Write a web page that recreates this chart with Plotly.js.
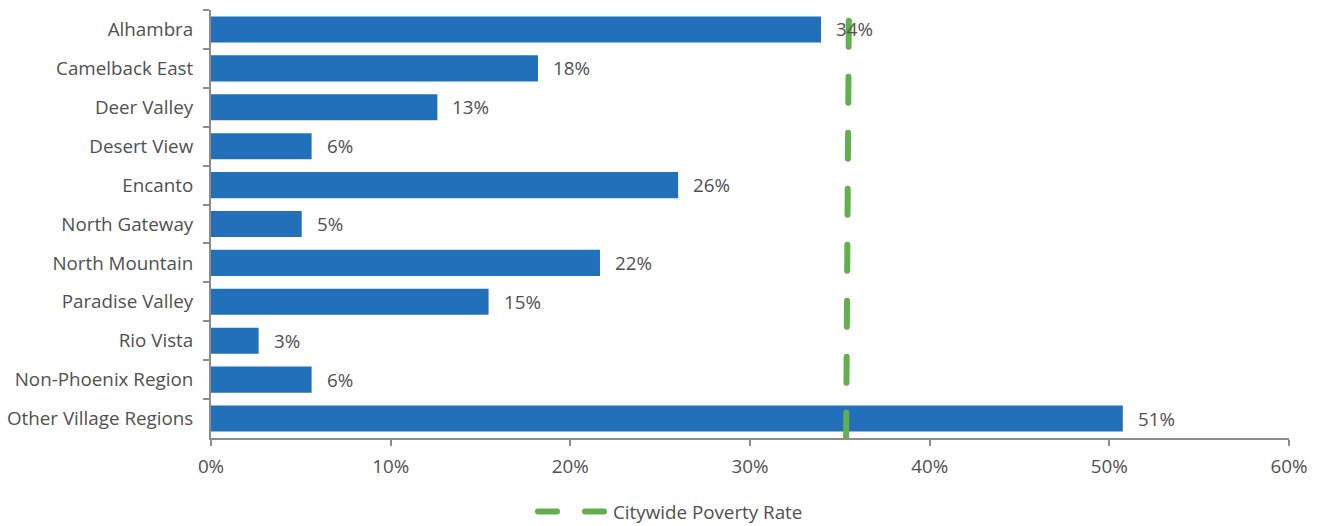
<!DOCTYPE html>
<html>
<head>
<meta charset="utf-8">
<script src="https://cdn.plot.ly/plotly-3.0.1.min.js"></script>
<style>
html,body{margin:0;padding:0;background:#fff;}
#chart{width:1318px;height:526px;}
</style>
</head>
<body>
<div id="chart"></div>
<script>
// Data
const categories = ["Alhambra","Camelback East","Deer Valley","Desert View","Encanto","North Gateway","North Mountain","Paradise Valley","Rio Vista","Non-Phoenix Region","Other Village Regions"];
const shares = [33.95, 18.2, 12.6, 5.6, 26.0, 5.05, 21.65, 15.45, 2.65, 5.6, 50.75];
const shareLabels = ["34%","18%","13%","6%","26%","5%","22%","15%","3%","6%","51%"];
const povertyRate = [35.5, 35.35];      // slight tilt as drawn in the reference
const povertyPos = [0.975, 0.0];        // relative vertical span of the line
const xTickVals = [0,10,20,30,40,50,60];
const xTickText = ["0%","10%","20%","30%","40%","50%","60%"];

const textColor = "#505050";
const font = {family: "Open Sans, sans-serif", size: 18.8, color: textColor};

const bars = {
  type: "bar",
  orientation: "h",
  y: categories,
  x: shares,
  marker: {color: "#2270b9", line: {width: 0}},
  showlegend: false,
  hoverinfo: "x+y"
};

const poverty = {
  type: "scatter",
  mode: "lines",
  x: povertyRate,
  y: povertyPos,
  yaxis: "y2",
  name: "Citywide Poverty Rate",
  line: {color: "#62b04c", width: 6, dash: "26px,30px"},
  showlegend: true
};

const annotations = categories.map((c, i) => ({
  x: shares[i], y: c, xref: "x", yref: "y",
  text: shareLabels[i], showarrow: false,
  xanchor: "left", xshift: 13,
  font: font
}));

const layout = {
  width: 1318, height: 526,
  margin: {l: 211, r: 29, t: 10, b: 88, autoexpand: false},
  paper_bgcolor: "#fff", plot_bgcolor: "#fff",
  font: font,
  bargap: 0.33,
  xaxis: {
    range: [0, 60], tickvals: xTickVals, ticktext: xTickText,
    showgrid: false, zeroline: false,
    showline: true, linecolor: "#8c8c8c", linewidth: 2,
    ticks: "outside", ticklen: 6, tickwidth: 2, tickcolor: "#8c8c8c",
    ticklabelstandoff: 4,
    tickfont: font, fixedrange: true
  },
  yaxis: {
    autorange: "reversed", type: "category",
    showgrid: false, zeroline: false,
    showline: true, linecolor: "#8c8c8c", linewidth: 2,
    ticks: "outside", ticklen: 6, tickwidth: 2, tickcolor: "#8c8c8c",
    tickson: "boundaries",
    ticklabelstandoff: 12,
    tickfont: font, fixedrange: true
  },
  yaxis2: {
    overlaying: "y", range: [0, 1], visible: false, fixedrange: true
  },
  legend: {
    orientation: "h", x: 0.2987, xanchor: "left",
    yref: "container", y: 0.027, yanchor: "middle",
    font: font, itemwidth: 70
  },
  annotations: annotations
};

Plotly.newPlot("chart", [bars, poverty], layout, {displayModeBar: false, staticPlot: true}).then(() => {
  document.querySelectorAll(".scatterlayer path.js-line").forEach(p => {
    p.style.strokeLinecap = "round";
  });
  document.querySelectorAll(".legend path.js-line").forEach(p => {
    p.setAttribute("d", "M5,0h66");
    p.style.strokeLinecap = "round";
    p.style.strokeDasharray = "19px,28px";
  });
});
</script>
</body>
</html>
